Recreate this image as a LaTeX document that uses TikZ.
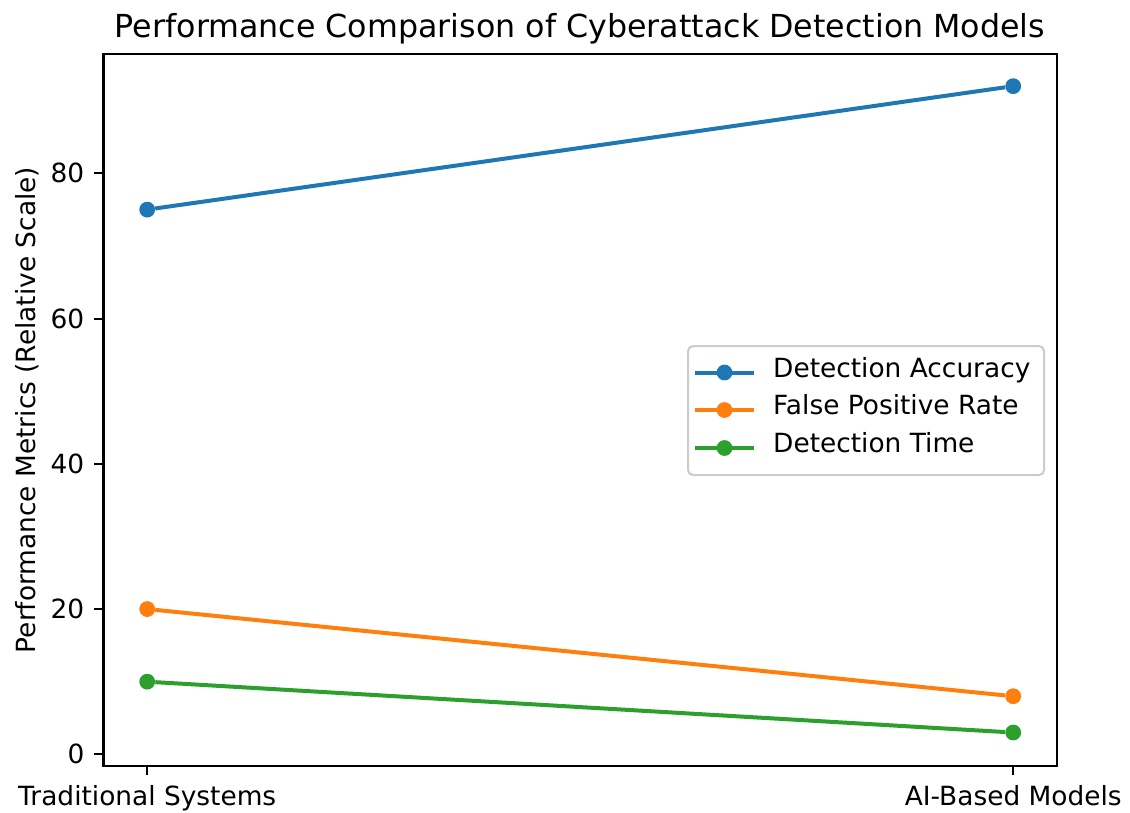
\documentclass[tikz,border=0pt]{standalone}
\usepackage{fontspec}
\setmainfont{DejaVu Sans}
\definecolor{cA}{HTML}{1F77B4}
\definecolor{cB}{HTML}{FF7F0E}
\definecolor{cC}{HTML}{2CA02C}
\definecolor{frameg}{HTML}{CCCCCC}
\tikzset{
  tickfont/.style={font=\fontsize{26.4}{30}\selectfont, inner sep=0pt},
  titlefont/.style={font=\fontsize{31.7}{36}\selectfont, inner sep=0pt},
  marker/.style={circle, fill=#1, draw=none, inner sep=0pt, minimum size=15.8pt},
  series/.style={draw=#1, line width=4pt},
  axisline/.style={line width=2.1pt, draw=black},
  legendframe/.style={draw=frameg, line width=2.1pt, fill=white, rounded corners=5pt},
}
\begin{document}
\begin{tikzpicture}[x=1pt, y=-1pt]
\useasboundingbox (0,0) rectangle (1130,812);

% axes frame
\draw[axisline] (103.5,54) rectangle (1056.7,765.7);

% y ticks and labels (0 at 754.3, 7.2625 per unit)
\foreach \v in {0,20,40,60,80} {
  \pgfmathsetmacro{\yy}{754.3-7.2625*\v}
  \draw[axisline] (94.3,\yy) -- (103.5,\yy);
  \node[tickfont, anchor=east] (yt\v) at (84.5,\yy) {\v};
}

% x ticks and labels
\draw[axisline] (147.2,765.7) -- (147.2,774.9);
\draw[axisline] (1013.2,765.7) -- (1013.2,774.9);
\node[tickfont, anchor=base] (xl1) at (147.2,805) {Traditional Systems};
\node[tickfont, anchor=base] (xl2) at (1013.2,805) {AI-Based Models};

% axis label and title
\node[tickfont, anchor=base, rotate=90] (ylab) at (35,410) {Performance Metrics (Relative Scale)};
\node[titlefont, anchor=base] (title) at (580.1,37.3) {Performance Comparison of Cyberattack Detection Models};

% data points
\node[marker=cA] (a1) at (147.2,{754.3-7.2625*75}) {};
\node[marker=cA] (a2) at (1013.2,{754.3-7.2625*92}) {};
\node[marker=cB] (b1) at (147.2,{754.3-7.2625*20}) {};
\node[marker=cB] (b2) at (1013.2,{754.3-7.2625*8}) {};
\node[marker=cC] (c1) at (147.2,{754.3-7.2625*10}) {};
\node[marker=cC] (c2) at (1013.2,{754.3-7.2625*3}) {};

% series lines
\draw[series=cA] (a1) -- (a2);
\draw[series=cB] (b1) -- (b2);
\draw[series=cC] (c1) -- (c2);

% legend
\node[legendframe, minimum width=356pt, minimum height=129pt, anchor=north west] (leg) at (687,345) {};
\foreach \n/\c/\ly/\by/\t in {la/cA/372.5/377/Detection Accuracy, lb/cB/410/414.5/False Positive Rate, lc/cC/448/452.5/Detection Time} {
  \coordinate (\n s) at (695,\ly);
  \coordinate (\n e) at (754,\ly);
  \draw[series=\c] (\n s) -- (\n e);
  \node[marker=\c] (\n m) at (724.5,\ly) {};
  \node[tickfont, anchor=base west] (\n t) at (773,\by) {\t};
}
\end{tikzpicture}
\end{document}
